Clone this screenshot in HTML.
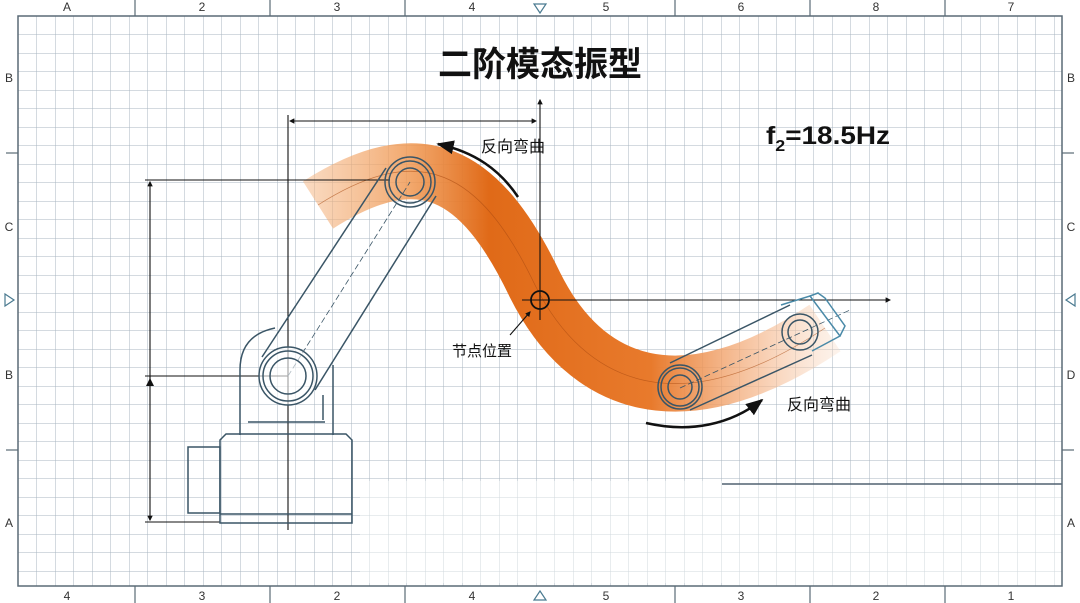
<!DOCTYPE html>
<html><head><meta charset="utf-8"><style>
html,body{margin:0;padding:0;background:#fff;}
svg{display:block;}
text{font-family:"Liberation Sans","Noto Sans CJK SC",sans-serif;}
</style></head><body>
<svg width="1080" height="603" viewBox="0 0 1080 603" xmlns="http://www.w3.org/2000/svg">
<defs>
<pattern id="g" x="18" y="16" width="18.5" height="18.5" patternUnits="userSpaceOnUse">
<path d="M0 0H18.5M0 0V18.5" stroke="#a9b6c0" stroke-width="1" fill="none"/>
</pattern>
<pattern id="g2" x="18" y="16" width="18.5" height="18.5" patternUnits="userSpaceOnUse">
<path d="M0 0H18.5M0 0V18.5" stroke="#d0d8de" stroke-width="1" fill="none"/>
</pattern>
<linearGradient id="og" x1="300" y1="0" x2="840" y2="0" gradientUnits="userSpaceOnUse">
<stop offset="0" stop-color="#f5b989" stop-opacity="0.5"/>
<stop offset="0.2" stop-color="#f09a55" stop-opacity="0.85"/>
<stop offset="0.35" stop-color="#e06a18"/>
<stop offset="0.65" stop-color="#e87a2c"/>
<stop offset="0.85" stop-color="#f5b68a" stop-opacity="0.7"/>
<stop offset="1" stop-color="#f8d8c0" stop-opacity="0.3"/>
</linearGradient>
<marker id="ar" viewBox="0 0 10 10" refX="9" refY="5" markerWidth="7" markerHeight="7" orient="auto-start-reverse"><path d="M0 1L10 5L0 9z" fill="#111"/></marker>
<marker id="ab" viewBox="0 0 10 10" refX="8" refY="5" markerWidth="5" markerHeight="5" orient="auto"><path d="M0 0L10 5L0 10z" fill="#111"/></marker>
</defs>
<rect width="1080" height="603" fill="#fff"/>
<rect x="18" y="16" width="1044" height="570" fill="url(#g)"/>
<rect x="360" y="481" width="362" height="102" fill="#fff"/>
<rect x="722" y="484" width="340" height="102" fill="#fff"/>
<rect x="722" y="484" width="340" height="102" fill="url(#g2)"/>
<rect x="360" y="481" width="362" height="102" fill="url(#g2)"/>
<line x1="722" y1="484" x2="1062" y2="484" stroke="#506270" stroke-width="1.5"/>
<rect x="18" y="16" width="1044" height="570" fill="none" stroke="#5a6a76" stroke-width="1.5"/>
<g stroke="#5a6a76" stroke-width="1.2">
<line x1="135" y1="0" x2="135" y2="16"/><line x1="270" y1="0" x2="270" y2="16"/><line x1="405" y1="0" x2="405" y2="16"/><line x1="675" y1="0" x2="675" y2="16"/><line x1="810" y1="0" x2="810" y2="16"/><line x1="945" y1="0" x2="945" y2="16"/>
<line x1="135" y1="586" x2="135" y2="603"/><line x1="270" y1="586" x2="270" y2="603"/><line x1="405" y1="586" x2="405" y2="603"/><line x1="675" y1="586" x2="675" y2="603"/><line x1="810" y1="586" x2="810" y2="603"/><line x1="945" y1="586" x2="945" y2="603"/>
<line x1="6" y1="153" x2="18" y2="153"/><line x1="6" y1="450" x2="18" y2="450"/><line x1="1062" y1="153" x2="1074" y2="153"/><line x1="1062" y1="450" x2="1074" y2="450"/>
</g>
<g fill="none" stroke="#4a7a90" stroke-width="1.2">
<path d="M534 4L546 4L540 13z"/><path d="M534 600L546 600L540 591z"/>
<path d="M5 294L5 306L14 300z"/><path d="M1075 294L1075 306L1066 300z"/>
</g>
<g font-size="12" fill="#333" text-anchor="middle">
<text x="67" y="11">A</text><text x="202" y="11">2</text><text x="337" y="11">3</text><text x="472" y="11">4</text><text x="606" y="11">5</text><text x="741" y="11">6</text><text x="876" y="11">8</text><text x="1011" y="11">7</text>
<text x="67" y="600">4</text><text x="202" y="600">3</text><text x="337" y="600">2</text><text x="472" y="600">4</text><text x="606" y="600">5</text><text x="741" y="600">3</text><text x="876" y="600">2</text><text x="1011" y="600">1</text>
<text x="9" y="82">B</text><text x="9" y="231">C</text><text x="9" y="379">B</text><text x="9" y="527">A</text>
<text x="1071" y="82">B</text><text x="1071" y="231">C</text><text x="1071" y="379">D</text><text x="1071" y="527">A</text>
</g>
<!-- orange band -->
<path d="M318 205 C 420 140, 480 170, 535 285 C 585 385, 680 425, 825 328" fill="none" stroke="url(#og)" stroke-width="56" stroke-linecap="butt"/>
<path d="M318 205 C 420 140, 480 170, 535 285 C 585 385, 680 425, 825 328" fill="none" stroke="#a84a10" stroke-width="0.7" opacity="0.6"/>
<!-- dimension lines -->
<g stroke="#111" stroke-width="1.1" fill="none">
<line x1="288" y1="115" x2="288" y2="530"/>
<line x1="290" y1="121" x2="536" y2="121" marker-end="url(#ab)" marker-start="url(#ab)" style="marker-start:none"/>
<line x1="536" y1="121" x2="290" y2="121" marker-end="url(#ab)"/>
<line x1="540" y1="320" x2="540" y2="100" marker-end="url(#ab)"/>
<line x1="522" y1="300" x2="890" y2="300" marker-end="url(#ab)"/>
<circle cx="540" cy="300" r="9" stroke-width="1.8"/>
<line x1="145" y1="180" x2="390" y2="180"/>
<line x1="145" y1="376" x2="288" y2="376"/>
<line x1="145" y1="522" x2="220" y2="522"/>
<line x1="150" y1="376" x2="150" y2="182" marker-end="url(#ab)"/>
<line x1="150" y1="376" x2="150" y2="520" marker-end="url(#ab)"/>
<line x1="150" y1="380" x2="150" y2="376"/>
<line x1="510" y1="335" x2="530" y2="312" marker-end="url(#ab)"/>
</g>
<path d="M150 378 L146 386 L154 386z" fill="#111"/>
<!-- curved arrows -->
<path d="M518 197 C 500 170, 475 152, 438 144" fill="none" stroke="#111" stroke-width="2.5" marker-end="url(#ar)"/>
<path d="M646 423 C 690 433, 730 425, 762 400" fill="none" stroke="#111" stroke-width="2.5" marker-end="url(#ar)"/>
<!-- robot -->
<g fill="none" stroke="#3a5566" stroke-width="1.5">
<path d="M240 435 V 370 Q 240 335 275 328 M333 435 V 365"/>
<line x1="248" y1="422" x2="325" y2="422"/><line x1="323" y1="395" x2="323" y2="420"/>
<path d="M220 440 L226 434 H346 L352 440 V 523 H220 Z"/>
<line x1="220" y1="514" x2="352" y2="514"/>
<rect x="188" y="447" width="32" height="66"/>
<line x1="262" y1="357" x2="386" y2="168"/>
<line x1="315" y1="390" x2="436" y2="196"/>
<line x1="288" y1="376" x2="410" y2="182" stroke-dasharray="6 3" stroke-width="0.8"/>
<circle cx="288" cy="376" r="29" fill="#fff" fill-opacity="0.6"/>
<circle cx="288" cy="376" r="25"/>
<circle cx="288" cy="376" r="18"/>
<circle cx="410" cy="182" r="25"/><circle cx="410" cy="182" r="21"/><circle cx="410" cy="182" r="14"/>
<line x1="670" y1="363" x2="790" y2="305"/>
<line x1="690" y1="410" x2="812" y2="355"/>
<line x1="680" y1="388" x2="850" y2="310" stroke-dasharray="6 3" stroke-width="0.8"/>
<circle cx="680" cy="387" r="22"/><circle cx="680" cy="387" r="19"/><circle cx="680" cy="387" r="12"/>
<circle cx="800" cy="332" r="18"/><circle cx="800" cy="332" r="12"/>
<path d="M781 305 L810 296 L840 336 L812 351" stroke="#4a8aa8"/>
<path d="M810 296 L818 293 L825 298 L845 326 L840 336" stroke="#4a8aa8"/>
</g>
<!-- texts -->
<text x="540" y="76" font-size="34" font-weight="bold" text-anchor="middle" fill="#111">二阶模态振型</text>
<text x="766" y="144" font-size="25" font-weight="bold" fill="#111" textLength="124" lengthAdjust="spacingAndGlyphs">f<tspan font-size="16" dy="7">2</tspan><tspan dy="-7">=18.5Hz</tspan></text>
<text x="481" y="152" font-size="16" fill="#111">反向弯曲</text>
<text x="787" y="410" font-size="16" fill="#111">反向弯曲</text>
<text x="452" y="356" font-size="15" fill="#111">节点位置</text>
</svg>
</body></html>
